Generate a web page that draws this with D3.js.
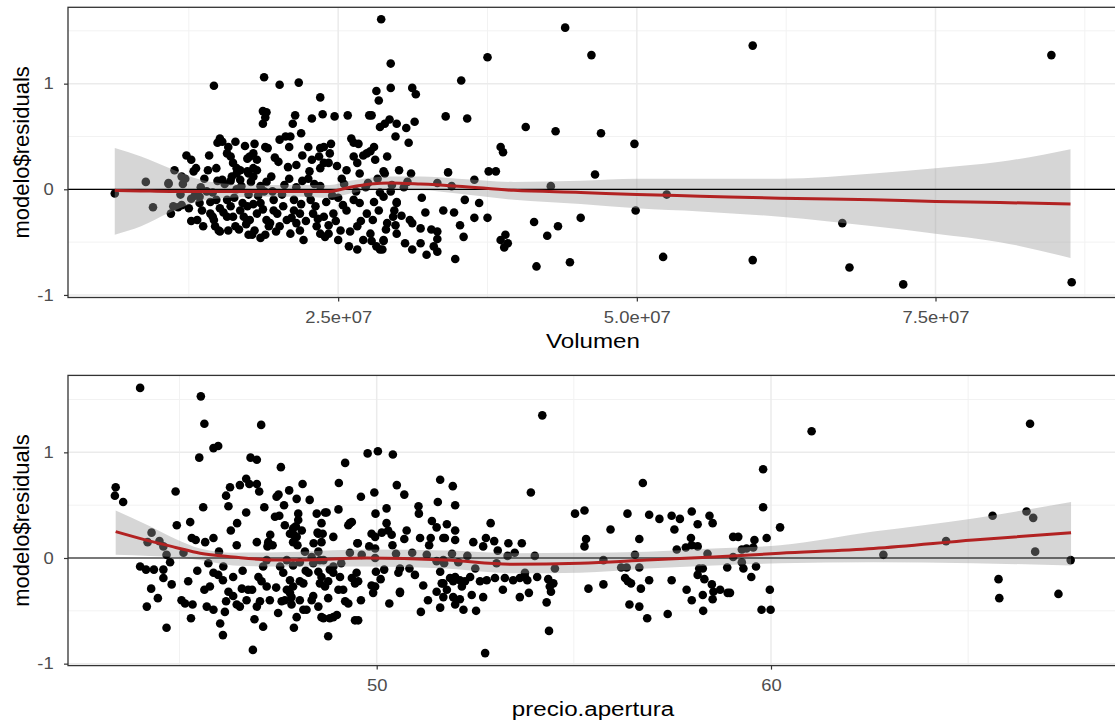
<!DOCTYPE html>
<html>
<head>
<meta charset="utf-8">
<script src="https://cdn.jsdelivr.net/npm/d3@7"></script>
<style>
body{margin:0;background:#fff;}
svg text{font-family:"Liberation Sans",Arial,sans-serif;}
</style>
</head>
<body>
<svg id="chart" width="1115" height="724"></svg>
<script>
// residuos vs Volumen (volumen en millones)
var volPoints = [
[6.3,-0.04],[8.9,0.07],[9.5,-0.17],[10.8,0.06],[11.0,-0.23],[11.3,0.18],
[14.6,0.98],[18.8,1.06],[20.1,0.99],[21.7,1.01],[28.6,1.61],[29.4,1.19],[28.2,0.93],[28.4,0.84],[29.4,0.96],[23.5,0.87],
[18.7,0.74],[19.0,0.73],[18.9,0.68],[18.7,0.62],[21.4,0.70],[22.8,0.67],[23.7,0.71],[24.7,0.69],[25.8,0.70],[27.6,0.70],[27.8,0.70],
[28.5,0.59],[28.9,0.62],[29.3,0.66],[29.9,0.62],[21.2,0.62],[21.9,0.53],[29.8,0.50],
[15.1,0.48],[15.3,0.45],[14.9,0.44],[16.4,0.45],[15.8,0.40],[17.2,0.41],[18.0,0.43],[18.9,0.40],[19.1,0.39],[20.1,0.47],[20.6,0.50],[21.0,0.50],[20.9,0.40],
[22.5,0.40],[23.5,0.39],[23.8,0.40],[24.4,0.43],[26.1,0.48],[26.3,0.44],[26.7,0.43],[28.0,0.40],[27.7,0.36],
[12.3,0.32],[12.7,0.28],[12.9,0.17],[11.9,0.12],[12.2,0.10],[14.1,0.18],[14.8,0.20],
[15.7,0.34],[16.0,0.31],[16.2,0.25],[16.5,0.20],[16.8,0.18],[17.4,0.29],[17.6,0.31],[17.9,0.34],[18.2,0.28],[17.9,0.20],[17.5,0.15],
[20.0,0.26],[20.8,0.21],[21.5,0.23],[22.0,0.32],[22.8,0.28],[23.4,0.31],[23.8,0.25],[24.2,0.25],[24.3,0.34],[22.5,0.10],[23.5,0.20],
[25.7,0.18],[26.3,0.31],[26.6,0.25],[26.8,0.15],[27.1,0.32],[27.4,0.34],[28.1,0.28],[28.9,0.15],[29.1,0.31],
[11.2,-0.16],[11.9,-0.15],[12.7,-0.30],[13.2,-0.29],[12.7,-0.09],[13.4,-0.13],[13.6,-0.20],[13.7,-0.35],[14.3,-0.23],[14.6,-0.29],[14.7,-0.35],[15.0,-0.39],[14.8,-0.10],[15.1,-0.18],
[15.7,-0.10],[16.0,-0.16],[16.2,-0.26],[16.4,-0.35],[15.8,-0.39],[16.8,-0.20],[17.1,-0.26],[17.4,-0.16],[17.6,-0.29],[17.8,-0.43],[18.0,-0.39],[18.2,-0.23],[18.5,-0.13],[18.7,-0.19],[19.0,-0.29],[18.9,-0.43],[18.5,-0.46],[19.2,-0.35],
[19.6,-0.10],[19.9,-0.23],[20.1,-0.35],[20.4,-0.16],[20.7,-0.29],[21.0,-0.42],[21.3,-0.20],[21.5,-0.32],[21.8,-0.39],[22.1,-0.48],[21.3,-0.10],[21.8,-0.23],
[22.7,-0.10],[22.9,-0.23],[23.2,-0.35],[23.5,-0.42],[23.1,-0.16],[23.8,-0.26],[24.2,-0.34],[24.6,-0.23],[24.2,-0.42],[23.9,-0.45],
[25.2,-0.39],[25.0,-0.48],[25.9,-0.54],[26.6,-0.57],[26.6,-0.35],[27.1,-0.48],[27.7,-0.42],[27.8,-0.49],[28.2,-0.54],[28.7,-0.57],[28.8,-0.48],[27.9,-0.29],[28.4,-0.20],[29.1,-0.32],[29.6,-0.26],[29.9,-0.42],[25.7,-0.20],[26.3,-0.10],[26.8,-0.13],[27.4,-0.23],[29.9,-0.13],
[12.0,0.05],[13.5,0.02],[14.5,-0.03],[15.5,0.05],[16.5,0.0],[17.5,-0.05],[18.5,0.03],[19.5,-0.02],[20.5,0.04],[21.5,0.02],[22.5,-0.04],[23.5,0.03],[24.5,-0.06],[25.5,0.05],[26.5,-0.02],[27.5,0.06],[28.5,-0.03],[29.5,0.04],[13.0,-0.06],[16.0,0.08],[19.0,0.07],[22.0,0.08],[25.0,-0.08],
[44.0,1.53],[37.5,1.25],[46.2,1.27],[59.7,1.36],[35.3,1.03],[31.2,0.96],[31.5,0.90],[34.0,0.69],[35.8,0.67],[40.7,0.59],[43.2,0.55],[47.0,0.53],[31.4,0.64],[30.7,0.58],[30.9,0.44],
[28.8,0.17],[30.1,0.18],[31.1,0.15],[34.2,0.16],[38.6,0.40],[38.8,0.35],[37.6,0.17],[38.2,0.17],[36.4,0.09],[33.3,0.06],[42.8,0.03],[49.8,0.43],[46.5,0.14],[52.5,-0.05],[49.9,-0.20],[45.3,-0.27],[43.4,-0.35],[42.5,-0.44],[41.4,-0.31],[44.4,-0.69],[41.6,-0.73],[52.2,-0.64],[59.7,-0.67],
[38.6,-0.48],[39.0,-0.43],[39.2,-0.51],[38.9,-0.55],[34.8,-0.66],[35.5,-0.45],[35.2,-0.34],[36.4,-0.27],[37.5,-0.27],[36.8,-0.13],[35.6,-0.10],[34.7,-0.22],
[32.3,-0.22],[31.9,-0.37],[32.8,-0.38],[33.3,-0.40],[33.3,-0.47],[33.0,-0.54],[33.3,-0.59],[32.4,-0.62],[31.9,-0.51],[31.2,-0.57],[30.6,-0.51],
[31.0,-0.29],[31.2,-0.32],[29.8,-0.34],[29.7,-0.20],[29.9,-0.12],[28.8,-0.49],[28.5,-0.57],[29.4,-0.02],[28.8,-0.07],[30.8,0.07],
[84.7,1.27],[67.2,-0.32],[67.8,-0.74],[72.3,-0.90],[86.4,-0.88],
[10.8,0.05],[11.6,-0.17],[11.8,-0.05],[15.3,0.09],[16.1,0.12],[16.5,0.15],[16.8,0.09],[17.4,0.17],[17.9,0.12],[18.2,0.18],[13.4,-0.07],[14.3,-0.12],[14.5,-0.26],[15.1,-0.40],[15.7,-0.26],[16.7,-0.38],[17.5,-0.43],[19.3,-0.32],[19.6,-0.20],[17.0,-0.13],[17.9,-0.14],
[13.8,0.10],[14.0,-0.02],[14.9,0.08],[15.4,-0.22],[16.3,-0.08],[16.9,0.03],[17.3,-0.33],[17.7,0.07],[18.3,-0.06],[18.8,-0.02],[19.4,0.12],[19.8,-0.40],[20.3,-0.05],[20.9,0.10],[21.1,-0.27],[21.9,-0.14],[22.3,-0.30],[22.6,0.17],[23.0,0.05],[23.3,-0.28],
[24.0,-0.12],[24.8,-0.30],[25.3,0.10],[25.4,-0.15],[26.0,-0.40],[26.9,-0.30],[27.3,0.02],[28.0,-0.12],[28.3,0.10],[29.0,-0.38],[30.3,-0.25],[30.5,0.02],[32.0,-0.08],[33.8,-0.20],[34.5,0.03],[12.5,-0.18],[13.1,0.20],[14.2,0.32],[19.7,0.30],[24.9,0.22]
];

// residuos vs precio.apertura
var aperturaPoints = [
[43.38,0.67],[43.36,0.59],[43.57,0.53],[44.0,1.61],[45.54,1.53],[45.63,1.27],[45.86,1.04],[45.98,1.06],[45.5,0.95],[46.8,0.95],[46.96,0.93],[47.07,1.26],[47.57,0.86],[49.77,0.99],[50.03,1.01],[50.41,0.98],[49.2,0.90],
[44.9,0.63],[45.6,0.48],[46.28,0.67],[46.18,0.59],[46.53,0.69],[46.69,0.75],[46.77,0.70],[46.96,0.70],[47.02,0.63],[46.69,0.43],
[46.24,0.49],[46.46,0.33],[46.3,0.26],[47.51,0.60],[47.65,0.50],[47.78,0.64],[47.97,0.56],[48.12,0.70],[49.04,0.71],[49.03,0.46],
[49.94,0.62],[49.97,0.42],[50.25,0.47],[50.51,0.69],[47.46,0.58],
[44.93,0.31],[45.27,0.34],[45.31,0.19],[45.41,0.17],[45.65,0.15],[45.86,0.19],
[44.29,0.24],[44.19,0.15],[44.49,0.16],[44.59,0.11],[44.67,0.03],[44.76,-0.04],
[44.0,-0.08],[44.15,-0.11],[44.35,-0.11],[44.59,-0.11],[44.59,-0.19],[44.28,-0.29],[44.17,-0.46],[44.67,-0.66],
[45.22,-0.22],[45.05,-0.40],[45.14,-0.43],[45.33,-0.44],[45.29,-0.57],
[45.63,-0.30],[45.77,-0.27],[45.73,-0.05],[45.86,-0.14],[45.98,-0.16],[45.69,-0.46],[45.86,-0.49],[46.03,-0.62],[46.1,-0.73],
[46.11,-0.08],[46.1,-0.21],[46.36,-0.18],[46.24,-0.32],[46.36,-0.36],[46.45,-0.44],[46.53,-0.46],[46.74,-0.30],[46.58,-0.29],[46.84,-0.30],[46.70,-0.40],[46.15,-0.51],[46.18,-0.41],
[46.86,-0.87],
[46.96,-0.46],[47.04,-0.41],[47.12,-0.65],[47.0,-0.18],[47.08,-0.22],[47.12,-0.08],[47.21,-0.27],[47.21,-0.02],[47.29,-0.40],[47.23,0.11],[46.96,0.15],
[47.25,0.15],[47.36,0.12],[47.42,0.39],[47.53,0.40],
[47.50,-0.52],[47.67,-0.40],[47.72,-0.30],[47.8,-0.33],[47.84,-0.44],[47.88,-0.27],[47.8,-0.21],[47.9,-0.66],[47.97,-0.56],[48.05,-0.40],[48.14,-0.49],[48.22,-0.49],[47.55,-0.08],[47.63,-0.14],[47.72,-0.02],[47.88,-0.07],[48.05,-0.04],
[47.67,0.31],[47.8,0.23],[47.88,0.28],[47.95,0.30],[48.01,0.36],[48.01,0.42],[48.1,0.26],[47.97,0.20],[47.88,0.15],
[48.18,0.06],[48.35,0.01],[48.48,0.42],[48.52,0.23],[48.6,0.33],[48.63,0.23],[48.6,0.15],[48.73,0.43],[48.52,0.06],[48.56,-0.02],
[48.27,-0.14],[48.39,-0.05],[48.52,-0.13],[48.6,-0.18],[48.56,-0.24],[48.69,-0.27],[48.77,-0.22],[48.81,-0.11],[48.65,-0.02],[48.9,-0.14],[48.77,-0.38],[48.6,-0.56],[48.81,-0.57],[48.99,-0.54],[48.77,-0.74],[49.07,-0.18],[49.15,-0.30],[49.28,-0.43],[49.53,-0.59],[48.9,-0.08],
[49.32,0.05],[49.52,0.14],[49.49,-0.14],[49.53,-0.22],[49.62,0.03],[49.28,0.31],[49.37,0.34],
[49.87,0.23],[49.96,0.20],[50.13,0.24],[50.29,0.26],[50.38,0.22],[50.25,0.33],[49.96,0.09],[49.96,0.0],[49.98,-0.13],[50.19,-0.11],[49.96,-0.27],[49.91,-0.33],[50.32,-0.43],[50.59,-0.33],[50.55,-0.14],
[51.61,0.74],[51.55,0.53],[51.78,0.32],[51.52,0.29],[51.69,0.19],[51.37,0.19],[51.33,0.12],[51.27,0.03],[51.52,-0.03],[51.69,-0.02],[51.61,-0.13],[51.65,-0.24],[51.52,-0.32],[51.69,-0.37],[51.61,-0.47],
[51.06,0.49],[51.07,0.42],[51.1,0.19],[50.7,0.18],[50.76,0.26],[50.59,-0.10],[50.59,-0.32],[50.83,-0.10],[50.97,-0.16],[51.18,-0.26],[51.12,-0.51],
[49.81,0.11],[50.49,0.04],[47.9,0.22],[47.99,0.12],[48.69,0.43],[48.5,0.24],[49.32,0.33],[49.51,0.14],
[47.84,-0.37],[47.59,-0.41],[48.05,-0.22],[48.14,-0.24],[48.35,-0.40],[48.39,-0.36],[48.52,-0.46],[48.65,-0.57],[48.90,-0.56],[49.03,-0.30],[49.2,-0.41],[49.37,-0.19],[49.45,-0.24],[49.45,-0.59],[49.87,-0.26],
[54.2,1.35],[53.91,0.62],[55.03,0.42],[51.93,0.68],[51.99,0.50],
[51.99,0.26],[51.73,0.19],[51.99,0.17],[52.45,0.15],[52.89,0.33],[52.77,0.19],[52.7,0.11],[52.98,0.16],[53.07,0.07],[53.34,0.14],[53.68,0.14],[53.32,0.02],[54.01,0.02],[51.91,0.04],[52.07,-0.04],[51.71,-0.05],
[53.04,-0.05],[53.76,-0.14],[54.52,-0.10],
[51.86,-0.19],[51.99,-0.18],[52.11,-0.21],[52.24,-0.22],[52.37,-0.18],[52.16,-0.27],[51.94,-0.22],[51.69,-0.24],[51.78,-0.30],[51.94,-0.37],[52.11,-0.39],[51.99,-0.44],[52.2,-0.49],[52.41,-0.35],[52.7,-0.37],[52.52,-0.50],
[52.62,-0.22],[52.79,-0.21],[53.0,-0.19],[53.25,-0.19],[53.46,-0.21],[53.63,-0.19],[53.76,-0.18],[53.82,-0.21],[54.07,-0.18],[54.35,-0.20],[54.48,-0.24],[54.39,-0.27],[54.42,-0.32],[53.63,-0.37],[53.86,-0.33],[54.31,-0.42],[54.37,-0.69],[52.75,-0.90],
[55.27,0.45],[56.75,0.71],[59.8,0.84],[59.8,0.48],[60.23,0.29],[55.31,0.18],[55.27,0.11],[55.93,0.27],[56.36,0.42],[56.66,0.18],
[56.91,0.41],[57.17,0.37],[57.48,0.40],[57.69,0.37],[57.55,0.27],[57.99,0.44],[58.14,0.32],[58.44,0.40],[58.52,0.33],
[57.61,0.08],[57.84,0.10],[57.97,0.19],[57.99,0.12],[58.14,0.11],[59.04,0.20],[59.17,0.20],[59.58,0.17],[59.89,0.19],[59.26,0.08],[59.38,0.09],[59.55,0.10],
[55.75,-0.02],[56.55,0.03],[56.2,-0.09],[56.34,-0.09],[56.66,-0.09],[58.39,0.04],[59.04,0.01],[59.26,-0.04],[58.27,-0.10],[58.18,-0.10],
[55.37,-0.29],[55.75,-0.25],[56.3,-0.19],[56.37,-0.22],[56.45,-0.24],[56.7,-0.29],[56.91,-0.21],[57.48,-0.21],[57.86,-0.30],[57.99,-0.40],[58.14,-0.16],[58.31,-0.20],[58.5,-0.25],[58.54,-0.32],[58.71,-0.30],[58.9,-0.33],[58.96,-0.33],[58.52,-0.39],[58.27,-0.35],[58.89,-0.09],[59.3,-0.10],[59.5,-0.18],[59.62,-0.08],[59.97,-0.30],[59.76,-0.49],[59.99,-0.49],[56.41,-0.44],[56.66,-0.46],[56.86,-0.57],[57.38,-0.53],[58.28,-0.50],
[61.03,1.20],[66.57,1.27],[62.85,0.03],[64.44,0.16],[65.62,0.40],[66.48,0.44],[66.65,0.38],[66.7,0.06],[67.6,-0.02],[65.77,-0.20],[65.79,-0.38],[67.29,-0.34],
[45.1,0.05],[45.45,-0.12],[46.0,0.06],[46.6,-0.12],[46.9,-0.58],[47.3,0.22],[47.45,-0.28],[48.2,-0.12],[48.4,0.14],[48.9,0.20],[49.1,-0.05],[49.6,-0.40],[50.1,-0.20],[50.4,0.12],
[50.9,0.05],[51.3,-0.40],[51.4,0.35],[52.3,0.02],[52.5,-0.10],[53.2,-0.30],[53.5,0.05],[44.8,-0.25],[44.45,-0.38],[46.45,0.12],[47.15,0.48],[48.3,0.55],[49.6,0.58],[50.7,0.60]
];

// curvas loess (ajuste y banda de confianza)
var smoothVolX  = [6.3, 8.5, 10.9, 13.5, 16.0, 19.0, 21.8, 24.3, 26.0, 27.7, 29.4, 31.9, 35.0, 39.7, 45.3, 50.0, 55.3, 62.0, 69.8, 75.0, 80.4, 86.3];
var smoothVolY  = [-0.01,-0.015,-0.02,-0.02,-0.02,-0.02,-0.02,-0.02,0.02,0.05,0.06,0.05,0.03,-0.01,-0.03,-0.05,-0.065,-0.085,-0.10,-0.115,-0.125,-0.14];
var smoothVolHi = [0.39,0.31,0.20,0.09,0.05,0.04,0.04,0.04,0.08,0.11,0.12,0.12,0.10,0.07,0.08,0.10,0.10,0.10,0.15,0.20,0.26,0.38];
var smoothVolLo = [-0.43,-0.35,-0.22,-0.11,-0.08,-0.07,-0.07,-0.08,-0.04,-0.01,-0.01,-0.01,-0.04,-0.10,-0.14,-0.18,-0.21,-0.26,-0.35,-0.42,-0.50,-0.65];

var smoothApeX  = [43.38,44.25,44.9,45.52,46.36,47.5,48.05,49.75,51.77,53.46,55.16,56.85,58.54,60.23,62.6,65.13,67.61];
var smoothApeY  = [0.25,0.16,0.10,0.045,0.01,-0.02,-0.02,0.0,-0.02,-0.06,-0.05,-0.02,0.01,0.045,0.09,0.17,0.24];
var smoothApeHi = [0.45,0.30,0.18,0.09,0.05,0.055,0.06,0.08,0.07,0.045,0.05,0.06,0.09,0.12,0.25,0.375,0.53];
var smoothApeLo = [0.03,0.02,0.01,-0.02,-0.07,-0.08,-0.08,-0.08,-0.10,-0.145,-0.14,-0.10,-0.07,-0.05,-0.04,-0.05,-0.07];

var yTicks = [-1, 0, 1];
var yMinor = [-0.5, 0.5, 1.5];
var volTicks = [2.5e7, 5e7, 7.5e7];
var volMinor = [1.25e7, 3.75e7, 6.25e7, 8.75e7];
var apeTicks = [50, 60];
var apeMinor = [45, 55, 65];

var svg = d3.select("#chart");
var stretch = 1.15;

function plot_panel(pts, sx, sy, shi, slo, x, plotDims, ticks, minor, fmt, xLbl){
    var y = d3.scaleLinear()
        .domain([-1, 1])
        .range([plotDims.zero + 105.65, plotDims.zero - 105.65]);

    var g = svg.append("g");
    var w = plotDims.right - plotDims.left;
    var h = plotDims.bottom - plotDims.top;

    g.append("clipPath").attr("id", "clip" + plotDims.ind)
      .append("rect").attr("x", plotDims.left).attr("y", plotDims.top)
      .attr("width", w).attr("height", h);

    var inner = g.append("g").attr("clip-path", "url(#clip" + plotDims.ind + ")");

    // grid
    inner.selectAll("line.ymin").data(yMinor).enter().append("line")
      .attr("x1", plotDims.left).attr("x2", plotDims.right)
      .attr("y1", function(d){return y(d)}).attr("y2", function(d){return y(d)})
      .style("stroke", "#f2f2f2").style("stroke-width", 1);
    inner.selectAll("line.xmin").data(minor).enter().append("line")
      .attr("y1", plotDims.top).attr("y2", plotDims.bottom)
      .attr("x1", function(d){return x(d)}).attr("x2", function(d){return x(d)})
      .style("stroke", "#f2f2f2").style("stroke-width", 1);
    inner.selectAll("line.ymaj").data(yTicks).enter().append("line")
      .attr("x1", plotDims.left).attr("x2", plotDims.right)
      .attr("y1", function(d){return y(d)}).attr("y2", function(d){return y(d)})
      .style("stroke", "#ebebeb").style("stroke-width", 1.5);
    inner.selectAll("line.xmaj").data(ticks).enter().append("line")
      .attr("y1", plotDims.top).attr("y2", plotDims.bottom)
      .attr("x1", function(d){return x(d)}).attr("x2", function(d){return x(d)})
      .style("stroke", "#ebebeb").style("stroke-width", 1.5);

    // puntos
    inner.append("g").selectAll("circle").data(pts).enter().append("circle")
      .attr("cx", function(d){return x(d[0])})
      .attr("cy", function(d){return y(d[1])})
      .attr("r", 4.3)
      .style("fill", "black");

    var sm = sx.map(function(v, i){ return {x: v, y: sy[i], hi: shi[i], lo: slo[i]}; });

    var area = d3.area()
      .x(function(d){return x(d.x)})
      .y0(function(d){return y(d.lo)})
      .y1(function(d){return y(d.hi)})
      .curve(d3.curveMonotoneX);
    inner.append("path").datum(sm).attr("d", area)
      .style("fill", "#999999").style("fill-opacity", 0.4);

    inner.append("line")
      .attr("x1", plotDims.left).attr("x2", plotDims.right)
      .attr("y1", y(0)).attr("y2", y(0))
      .style("stroke", "black").style("stroke-width", 1.2);

    var line = d3.line()
      .x(function(d){return x(d.x)})
      .y(function(d){return y(d.y)})
      .curve(d3.curveMonotoneX);
    inner.append("path").datum(sm).attr("d", line)
      .style("fill", "none").style("stroke", "#B22222").style("stroke-width", 3);

    // borde del panel
    g.append("rect")
      .attr("x", plotDims.left).attr("y", plotDims.top)
      .attr("width", w).attr("height", h)
      .style("fill", "none").style("stroke", "#333333").style("stroke-width", 1.3);

    var yAxis = d3.axisLeft(y).tickValues(yTicks).tickSize(4).tickPadding(8.5)
      .tickFormat(function(d){return String(d)});
    var ya = g.append("g").attr("transform", "translate(" + plotDims.left + ",0)")
      .attr("color", "#333333").call(yAxis);
    ya.select(".domain").remove();
    ya.selectAll("line").style("stroke-width", 1.2);
    ya.selectAll("text").style("font-size", "16px").style("fill", "#4d4d4d")
      .attr("transform", "scale(" + stretch + ",1)");

    var xAxis = d3.axisBottom(x).tickValues(ticks).tickSize(4).tickPadding(10)
      .tickFormat(fmt);
    var xa = g.append("g").attr("transform", "translate(0," + plotDims.bottom + ")")
      .attr("color", "#333333").call(xAxis);
    xa.select(".domain").remove();
    xa.selectAll("line").style("stroke-width", 1.2);
    xa.selectAll("text").style("font-size", "16px").style("fill", "#4d4d4d")
      .attr("transform", "scale(" + stretch + ",1)");

    g.append("text")
      .attr("transform", "translate(" + ((plotDims.left + plotDims.right) / 2 - 1) + "," + plotDims.xLblY + ") scale(" + stretch + ",1)")
      .style("text-anchor", "middle").style("font-size", "21px").style("fill", "black")
      .text(xLbl);

    g.append("text")
      .attr("transform", "translate(29," + ((plotDims.top + plotDims.bottom) / 2) + ") rotate(-90)")
      .style("text-anchor", "middle").style("font-size", "22px").style("fill", "black")
      .text("modelo$residuals");
}

var xVol = d3.scaleLinear().domain([0, 7.5e7]).range([39.5, 935.5]);
var xApe = d3.scaleLinear().domain([50, 60]).range([376.7, 771]);

var volData = volPoints.map(function(d){return [d[0] * 1e6, d[1]]});
var volSmoothX = smoothVolX.map(function(v){return v * 1e6});

plot_panel(volData, volSmoothX, smoothVolY, smoothVolHi, smoothVolLo, xVol,
    {ind: 0, left: 68, right: 1120, top: 7.3, bottom: 297.5, zero: 189.3, xLblY: 348},
    volTicks, volMinor, function(d){return (d / 1e7).toFixed(1) + "e+07"}, "Volumen");

plot_panel(aperturaPoints, smoothApeX, smoothApeY, smoothApeHi, smoothApeLo, xApe,
    {ind: 1, left: 68, right: 1120, top: 375.4, bottom: 665.6, zero: 558.0, xLblY: 716},
    apeTicks, apeMinor, function(d){return String(d)}, "precio.apertura");
</script>
</body>
</html>
